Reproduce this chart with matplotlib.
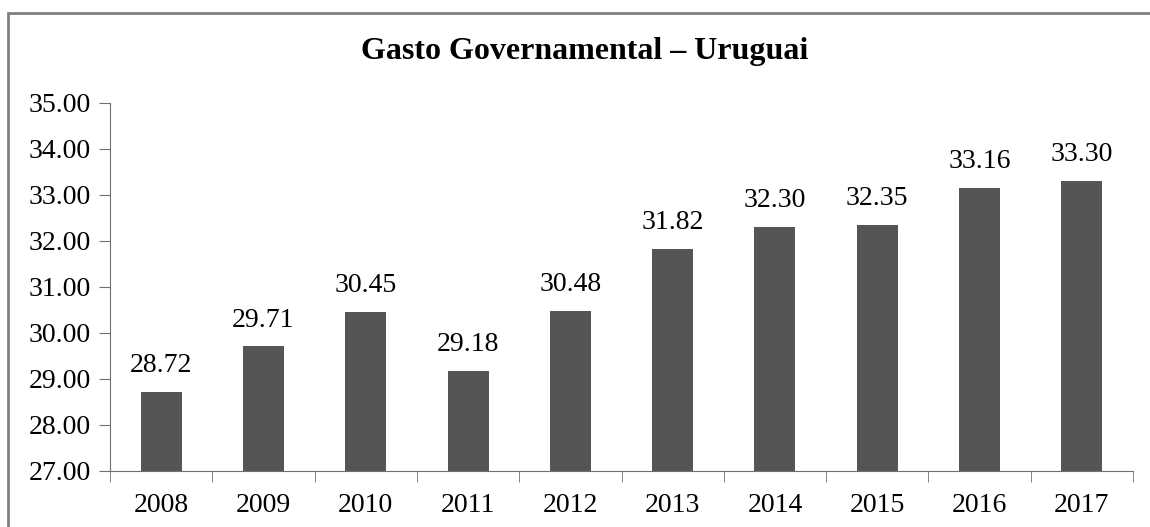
import matplotlib
matplotlib.use('Agg')
import matplotlib.pyplot as plt
from matplotlib.patches import Rectangle

# dados
anos = ['2008', '2009', '2010', '2011', '2012', '2013', '2014', '2015', '2016', '2017']
gasto = [28.72, 29.71, 30.45, 29.18, 30.48, 31.82, 32.30, 32.35, 33.16, 33.30]
y_ticks = [27, 28, 29, 30, 31, 32, 33, 34, 35]

plt.rcParams['font.family'] = ['Liberation Serif', 'DejaVu Serif']

fig = plt.figure(figsize=(11.5, 5.27), dpi=100)
ax = fig.add_axes([110 / 1150, 1 - 471 / 527, (1133 - 110) / 1150, (471 - 103) / 527])

# moldura do gráfico
fig.patches.append(Rectangle((8 / 1150, -0.1), 1.2, 1 - 13 / 527 + 0.1,
                             transform=fig.transFigure, fill=False,
                             edgecolor='#808080', linewidth=2))

x = range(len(anos))
ax.bar(x, [v - 27 for v in gasto], bottom=27, width=0.4, color='#555555')

for i, v in enumerate(gasto):
    ax.text(i, v + 0.3, f'{v:.2f}', ha='center', va='bottom', fontsize=20)

ax.set_xlim(-0.5, len(anos) - 0.5)
ax.set_ylim(27, 35)
ax.set_yticks(y_ticks)
ax.set_yticklabels([f'{t:.2f}' for t in y_ticks], fontsize=20)
ax.set_xticks(list(x))
ax.set_xticklabels(anos, fontsize=20)
ax.tick_params(axis='x', length=0, pad=16)
ax.set_xticks([i - 0.5 for i in range(len(anos) + 1)], minor=True)
ax.tick_params(axis='x', which='minor', length=8, direction='out', color='#707070')
ax.tick_params(axis='y', length=8, direction='out', color='#707070', pad=6)

for s in ['top', 'right']:
    ax.spines[s].set_visible(False)
ax.spines['left'].set_color('#707070')
ax.spines['bottom'].set_color('#707070')

fig.text(585 / 1150, 1 - 52 / 527, 'Gasto Governamental – Uruguai',
         ha='center', va='center', fontsize=23, fontweight='bold')

fig.savefig('out.png', dpi=100)
